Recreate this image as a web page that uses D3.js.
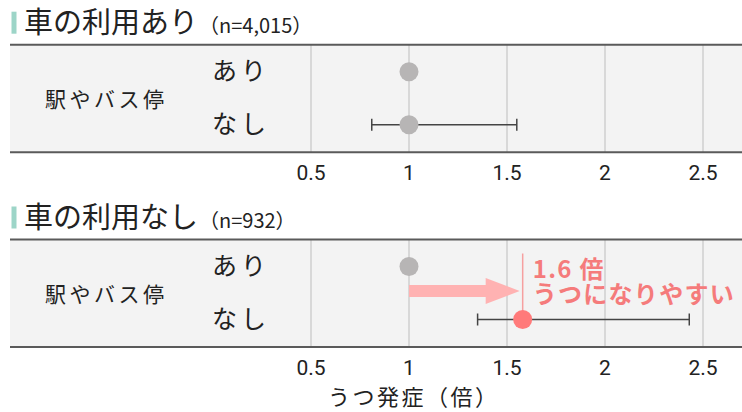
<!DOCTYPE html>
<html><head><meta charset="utf-8">
<script src="https://cdn.jsdelivr.net/npm/d3@7"></script>
<style>
html,body{margin:0;padding:0;background:#fff;}
svg{display:block;}
text{font-family:"Noto Sans CJK JP","Noto Sans",sans-serif;}
.num{font-family:Roboto,"Noto Sans",sans-serif;}
</style></head>
<body>
<script>
const groups = ["車の利用あり", "車の利用なし"];
const sampleSizes = ["4,015", "932"];
const rowLabel = "駅やバス停";
const categories = ["あり", "なし"];
const estimates = [[1, 1], [1, 1.58]];
const lowers = [[null, 0.81], [null, 1.35]];
const uppers = [[null, 1.55], [null, 2.43]];
const tickValues = [0.5, 1, 1.5, 2, 2.5];
const tickLabels = ["0.5", "1", "1.5", "2", "2.5"];
const axisTitle = "うつ発症（倍）";
const annotationLines = ["1.6 倍", "うつになりやすい"];

const W = 742, H = 412;
const svg = d3.select("body").append("svg").attr("width", W).attr("height", H);
const x = d3.scaleLinear().domain([0.5, 2.5]).range([311, 703]);

const panelTop = [44.7, 239.5];
const panelH = 107.5;
const y = d3.scaleOrdinal().domain(categories).range([27, 80]);

groups.forEach((g, gi) => {
  const top = panelTop[gi];
  const G = svg.append("g").attr("transform", `translate(0,${top})`);
  // title
  svg.append("rect").attr("x", 11.5).attr("y", top - 33).attr("width", 5).attr("height", 22).attr("fill", "#9dd5c8");
  const t = svg.append("text").attr("x", 24).attr("y", top - 11.5).attr("fill", "#222");
  t.append("tspan").attr("font-size", 29).text(g);
  t.append("tspan").attr("font-size", 20).attr("dx", 1).text("（n=" + sampleSizes[gi] + "）");
  // background
  G.append("rect").attr("x", 10).attr("y", 0).attr("width", W - 10).attr("height", panelH).attr("fill", "#f3f3f3");
  // grid
  G.selectAll(".grid").data(tickValues).join("line")
    .attr("x1", d => x(d)).attr("x2", d => x(d)).attr("y1", 0).attr("y2", panelH)
    .attr("stroke", "#cfcfcf").attr("stroke-width", 1.5);
  // borders
  G.append("line").attr("x1", 10).attr("x2", W).attr("y1", 0).attr("y2", 0).attr("stroke", "#5a5a5a").attr("stroke-width", 2);
  G.append("line").attr("x1", 10).attr("x2", W).attr("y1", panelH).attr("y2", panelH).attr("stroke", "#5a5a5a").attr("stroke-width", 2);
  // labels
  G.append("text").attr("x", 45).attr("y", 55).attr("dy", "0.35em").attr("font-size", 21).attr("letter-spacing", 3.5).attr("fill", "#222").text(rowLabel);
  G.selectAll(".cat").data(categories).join("text")
    .attr("x", 212).attr("y", d => y(d)).attr("dy", "0.35em").attr("font-size", 25).attr("letter-spacing", 4).attr("fill", "#222").text(d => d);
  // annotation (group 2)
  if (gi === 1) {
    const xe = x(estimates[gi][1]);
    G.append("line").attr("x1", xe).attr("x2", xe).attr("y1", 14).attr("y2", y(categories[1]))
      .attr("stroke", "#f6a0a0").attr("stroke-width", 1.5);
    const ay = 51.5, x0 = x(1), x1 = xe - 3;
    G.append("path").attr("d", `M${x0},${ay - 6}L${x1 - 34},${ay - 6}L${x1 - 34},${ay - 13}L${x1},${ay}L${x1 - 34},${ay + 13}L${x1 - 34},${ay + 6}L${x0},${ay + 6}Z`)
      .attr("fill", "#ffb2b2");
    G.selectAll(".ann").data(annotationLines).join("text")
      .attr("x", xe + 10).attr("y", (d, i) => 38 + i * 25)
      .attr("font-size", 24).attr("font-weight", 700).attr("letter-spacing", 1.3).attr("fill", "#f57b7b").text(d => d);
  }
  // error bars
  categories.forEach((c, ci) => {
    const lo = lowers[gi][ci], hi = uppers[gi][ci];
    if (lo != null) {
      const cy = y(c);
      G.append("line").attr("x1", x(lo)).attr("x2", x(hi)).attr("y1", cy).attr("y2", cy).attr("stroke", "#444").attr("stroke-width", 1.5);
      [lo, hi].forEach(v => G.append("line").attr("x1", x(v)).attr("x2", x(v)).attr("y1", cy - 6).attr("y2", cy + 6).attr("stroke", "#444").attr("stroke-width", 1.5));
    }
  });
  // dots
  G.selectAll(".dot").data(categories).join("circle")
    .attr("cx", (d, i) => x(estimates[gi][i])).attr("cy", d => y(d)).attr("r", 9.5)
    .attr("fill", (d, i) => (gi === 1 && i === 1) ? "#ff7a7a" : "#b7b5b5");
  // tick labels
  G.selectAll(".tick").data(tickValues).join("text").attr("class", "num")
    .attr("x", d => x(d)).attr("y", panelH + 28).attr("text-anchor", "middle")
    .attr("font-size", 21).attr("fill", "#222").text((d, i) => tickLabels[i]);
});

svg.append("text").attr("x", 328).attr("y", 405).attr("font-size", 22).attr("letter-spacing", 2.5).attr("fill", "#222").text(axisTitle);
</script>
</body></html>
